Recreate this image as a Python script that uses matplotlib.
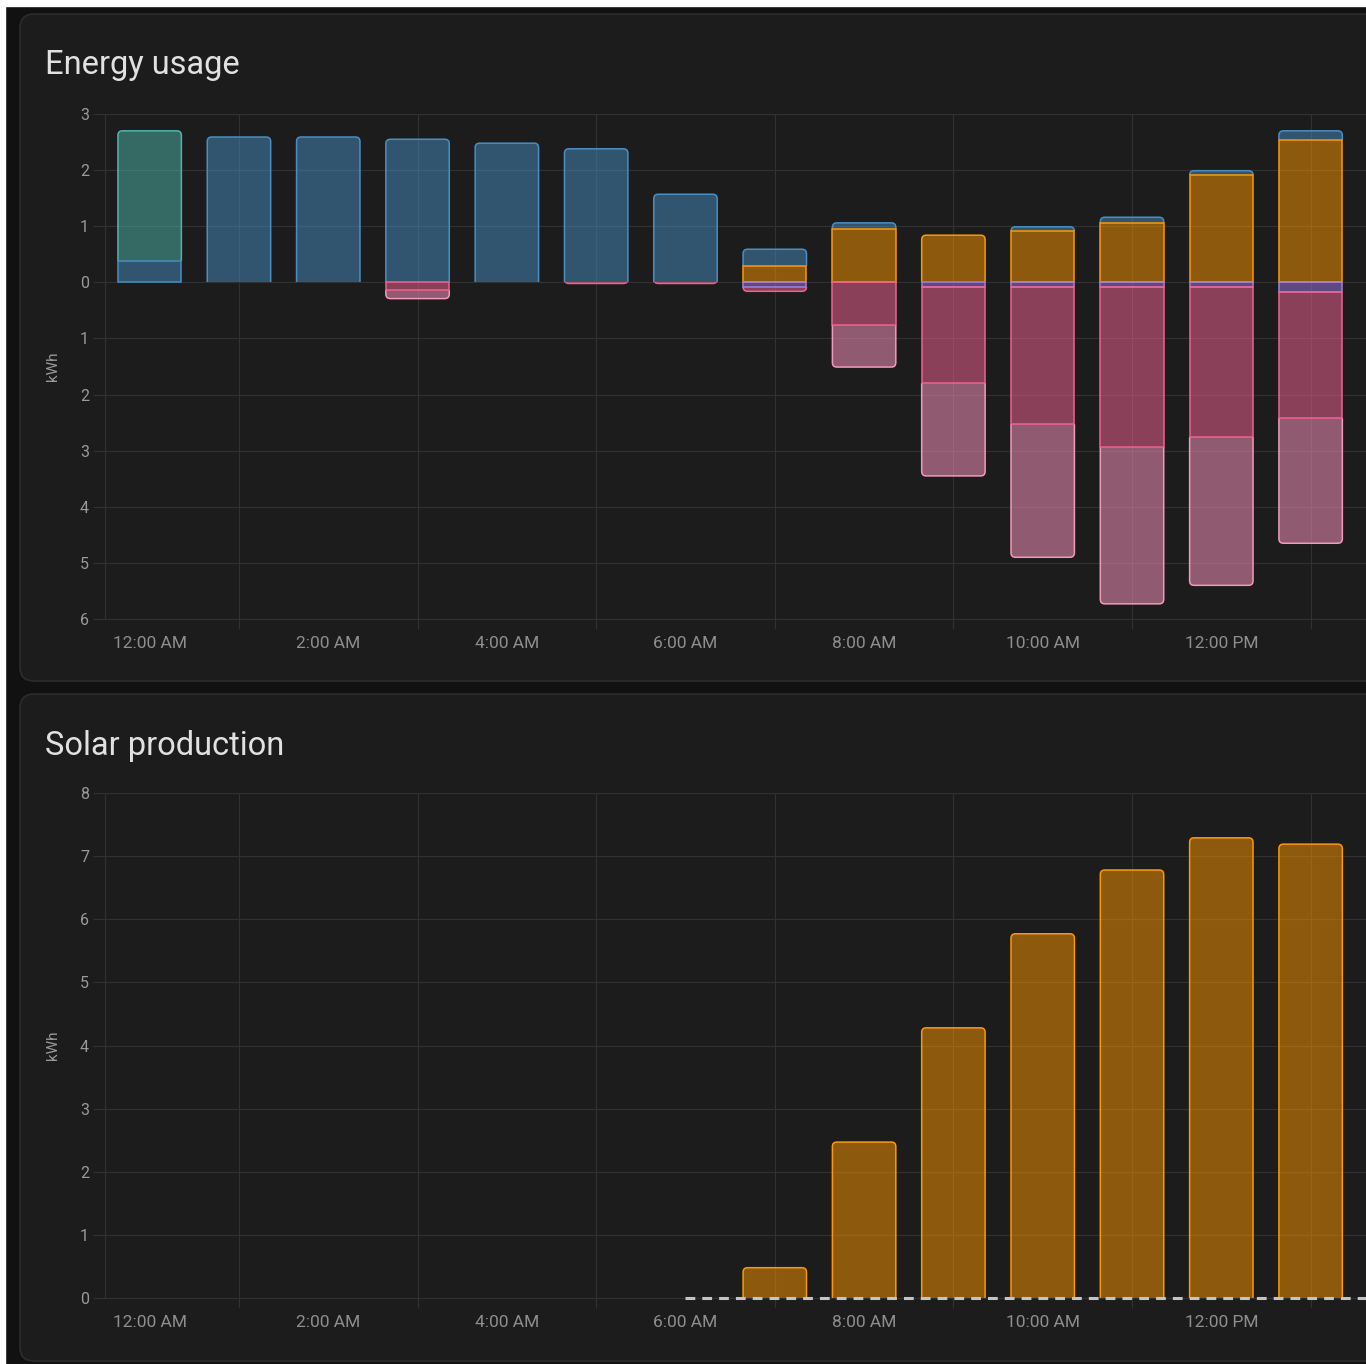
import matplotlib
matplotlib.use("Agg")
import matplotlib.pyplot as plt
from matplotlib.patches import FancyBboxPatch, Rectangle
from matplotlib.ticker import FixedLocator, FuncFormatter
from matplotlib.colors import to_rgba
import numpy as np

plt.rcParams['font.family'] = ['Roboto', 'DejaVu Sans']

hours = list(range(14))
hour_labels = ['12:00 AM', '2:00 AM', '4:00 AM', '6:00 AM', '8:00 AM', '10:00 AM', '12:00 PM']

# energy usage, kWh per hour (positive: consumed, negative: stored / returned)
solar_used = [0, 0, 0, 0, 0, 0, 0, 0.30, 0.95, 0.84, 0.91, 1.05, 1.91, 2.53]
grid_used = [0.38, 2.59, 2.59, 2.55, 2.48, 2.38, 1.57, 0.29, 0.11, 0.0, 0.08, 0.11, 0.08, 0.17]
battery_out = [2.32, 0, 0, 0, 0, 0, 0, 0, 0, 0, 0, 0, 0, 0]
to_grid = [0, 0, 0, 0, 0, 0, 0, 0.08, 0, 0.08, 0.08, 0.08, 0.08, 0.18]
to_battery = [0, 0, 0, 0.14, 0, 0.02, 0.02, 0.08, 0.76, 1.71, 2.44, 2.85, 2.68, 2.24]
to_battery_grid = [0, 0, 0, 0.15, 0, 0, 0, 0, 0.75, 1.66, 2.38, 2.80, 2.64, 2.23]

# solar production
solar_prod = [0, 0, 0, 0, 0, 0, 0, 0.48, 2.47, 4.28, 5.77, 6.78, 7.29, 7.19]
forecast_hours = [6, 7, 8, 9, 10, 11, 12, 13, 14]
forecast = [0, 0, 0, 0, 0, 0, 0, 0, 0]

W, H = 1366, 1364
fig = plt.figure(figsize=(W / 100, H / 100), dpi=100, facecolor='#111111')

bg = fig.add_axes([0, 0, 1, 1], zorder=-5)
bg.set_xlim(0, W)
bg.set_ylim(H, 0)
bg.axis('off')
bg.add_patch(Rectangle((0, 0), 5, H, color='white'))
bg.add_patch(Rectangle((0, 0), W, 6, color='white'))
for y0, y1 in [(14, 681), (694, 1361)]:
    bg.add_patch(FancyBboxPatch((20, y0), 1420, y1 - y0,
                                boxstyle='round,pad=0,rounding_size=14',
                                facecolor='#1c1c1c', edgecolor='#2c2c2c', lw=1.2))
bg.text(45, 65, 'Energy usage', color='#e1e1e1', fontsize=23.5, va='center', ha='left')
bg.text(45, 746, 'Solar production', color='#e1e1e1', fontsize=23.5, va='center', ha='left')

GRID = '#313131'
TICK = '#9a9a9a'


def px_axes(left, top, right, bottom):
    return fig.add_axes([left / W, 1 - bottom / H, (right - left) / W, (bottom - top) / H])


def style(ax, ymin, ymax):
    ax.set_facecolor('none')
    ax.set_xlim(-0.5, 13.62)
    ax.set_ylim(ymin, ymax)
    ax.xaxis.set_major_locator(FixedLocator(list(range(0, 13, 2))))
    ax.set_xticklabels(hour_labels)
    ax.xaxis.set_minor_locator(FixedLocator(list(range(1, 14, 2))))
    ax.yaxis.set_major_locator(FixedLocator(list(range(int(ymin), int(ymax) + 1))))
    ax.yaxis.set_major_formatter(FuncFormatter(lambda v, p: f"{abs(v):g}"))
    ax.tick_params(axis='x', which='major', length=0, pad=12, labelsize=12.5, labelcolor='#8e8e8e')
    ax.tick_params(axis='x', which='minor', length=7.5, color=GRID, width=0.8)
    ax.tick_params(axis='y', length=8.5, color=GRID, width=0.8, pad=3, labelsize=11.5, labelcolor=TICK)
    ax.grid(axis='y', which='major', color=GRID, lw=0.8)
    ax.grid(axis='x', which='minor', color=GRID, lw=0.8)
    ax.set_axisbelow(True)
    for s in ['top', 'right']:
        ax.spines[s].set_visible(False)
    for s in ['left', 'bottom']:
        ax.spines[s].set_color(GRID)
        ax.spines[s].set_linewidth(0.8)
    ax.set_ylabel('kWh', color=TICK, fontsize=11, labelpad=14)


bw = 0.71
lw = 1.1


def rounded_bar(ax, x, b, v, face, edge):
    # bar whose outer end has rounded corners (inner end cut square)
    x0, x1 = ax.get_xlim()
    y0, y1 = ax.get_ylim()
    px = ax.bbox.width / (x1 - x0)
    py = ax.bbox.height / (y1 - y0)
    r = 4.5 / px
    ry = 4.5 / py
    if v > 0:
        box = (b - 2 * ry, v + 2 * ry)
        clip = (b, v + 3 / py)
    else:
        box = (b + v, -v + 2 * ry)
        clip = (b + v - 3 / py, -v + 3 / py)
    p = FancyBboxPatch((x - bw / 2, box[0]), bw, box[1],
                       boxstyle=f'round,pad=0,rounding_size={r}',
                       mutation_aspect=px / py, facecolor=face, edgecolor=edge,
                       lw=lw, zorder=0.95)
    ax.add_patch(p)
    p.set_clip_path(Rectangle((x - bw / 2 - 3 / px, clip[0]), bw + 6 / px, clip[1],
                              transform=ax.transData))


def draw_stack(ax, series, sign, faces, edges):
    vals = [sign * np.asarray(s, dtype=float) for s in series]
    outer = [max([i for i in range(len(vals)) if vals[i][h] != 0], default=-1) for h in hours]
    base = np.zeros(len(hours))
    for i, (v, face, edge) in enumerate(zip(vals, faces, edges)):
        plain = [h for h in hours if v[h] != 0 and outer[h] != i]
        if plain:
            ax.bar(plain, v[plain], bw, bottom=base[plain], color=face, edgecolor=edge, lw=lw,
                   zorder=0.97)
        for h in hours:
            if v[h] != 0 and outer[h] == i:
                rounded_bar(ax, h, base[h], v[h], face, edge)
        base = base + v


def fill(c, a=0.5):
    return to_rgba(c, a)


# ---- Energy usage ----
ax1 = px_axes(105, 114, W, 619)
style(ax1, -6, 3)
draw_stack(ax1, [solar_used, grid_used, battery_out], 1,
           [fill('#ff9800'), fill('#488fc2'), fill('#4db6ac')],
           ['#ff9800', '#488fc2', '#4db6ac'])
draw_stack(ax1, [to_grid, to_battery, to_battery_grid], -1,
           [fill('#a078e4'), fill('#f86494'), fill('#f18eb8', 0.55)],
           ['#a280db', '#f06292', '#f29ab9'])

# ---- Solar production ----
ax2 = px_axes(105, 793, W, 1298)
style(ax2, 0, 8)
draw_stack(ax2, [solar_prod], 1, [fill('#ff9800')], ['#ff9800'])
ax2.plot(forecast_hours, forecast, color='#c4c4c4', lw=2.2, dashes=(3.2, 2.3), zorder=5,
         clip_on=False)

fig.savefig('out.png', dpi=100, facecolor=fig.get_facecolor())
